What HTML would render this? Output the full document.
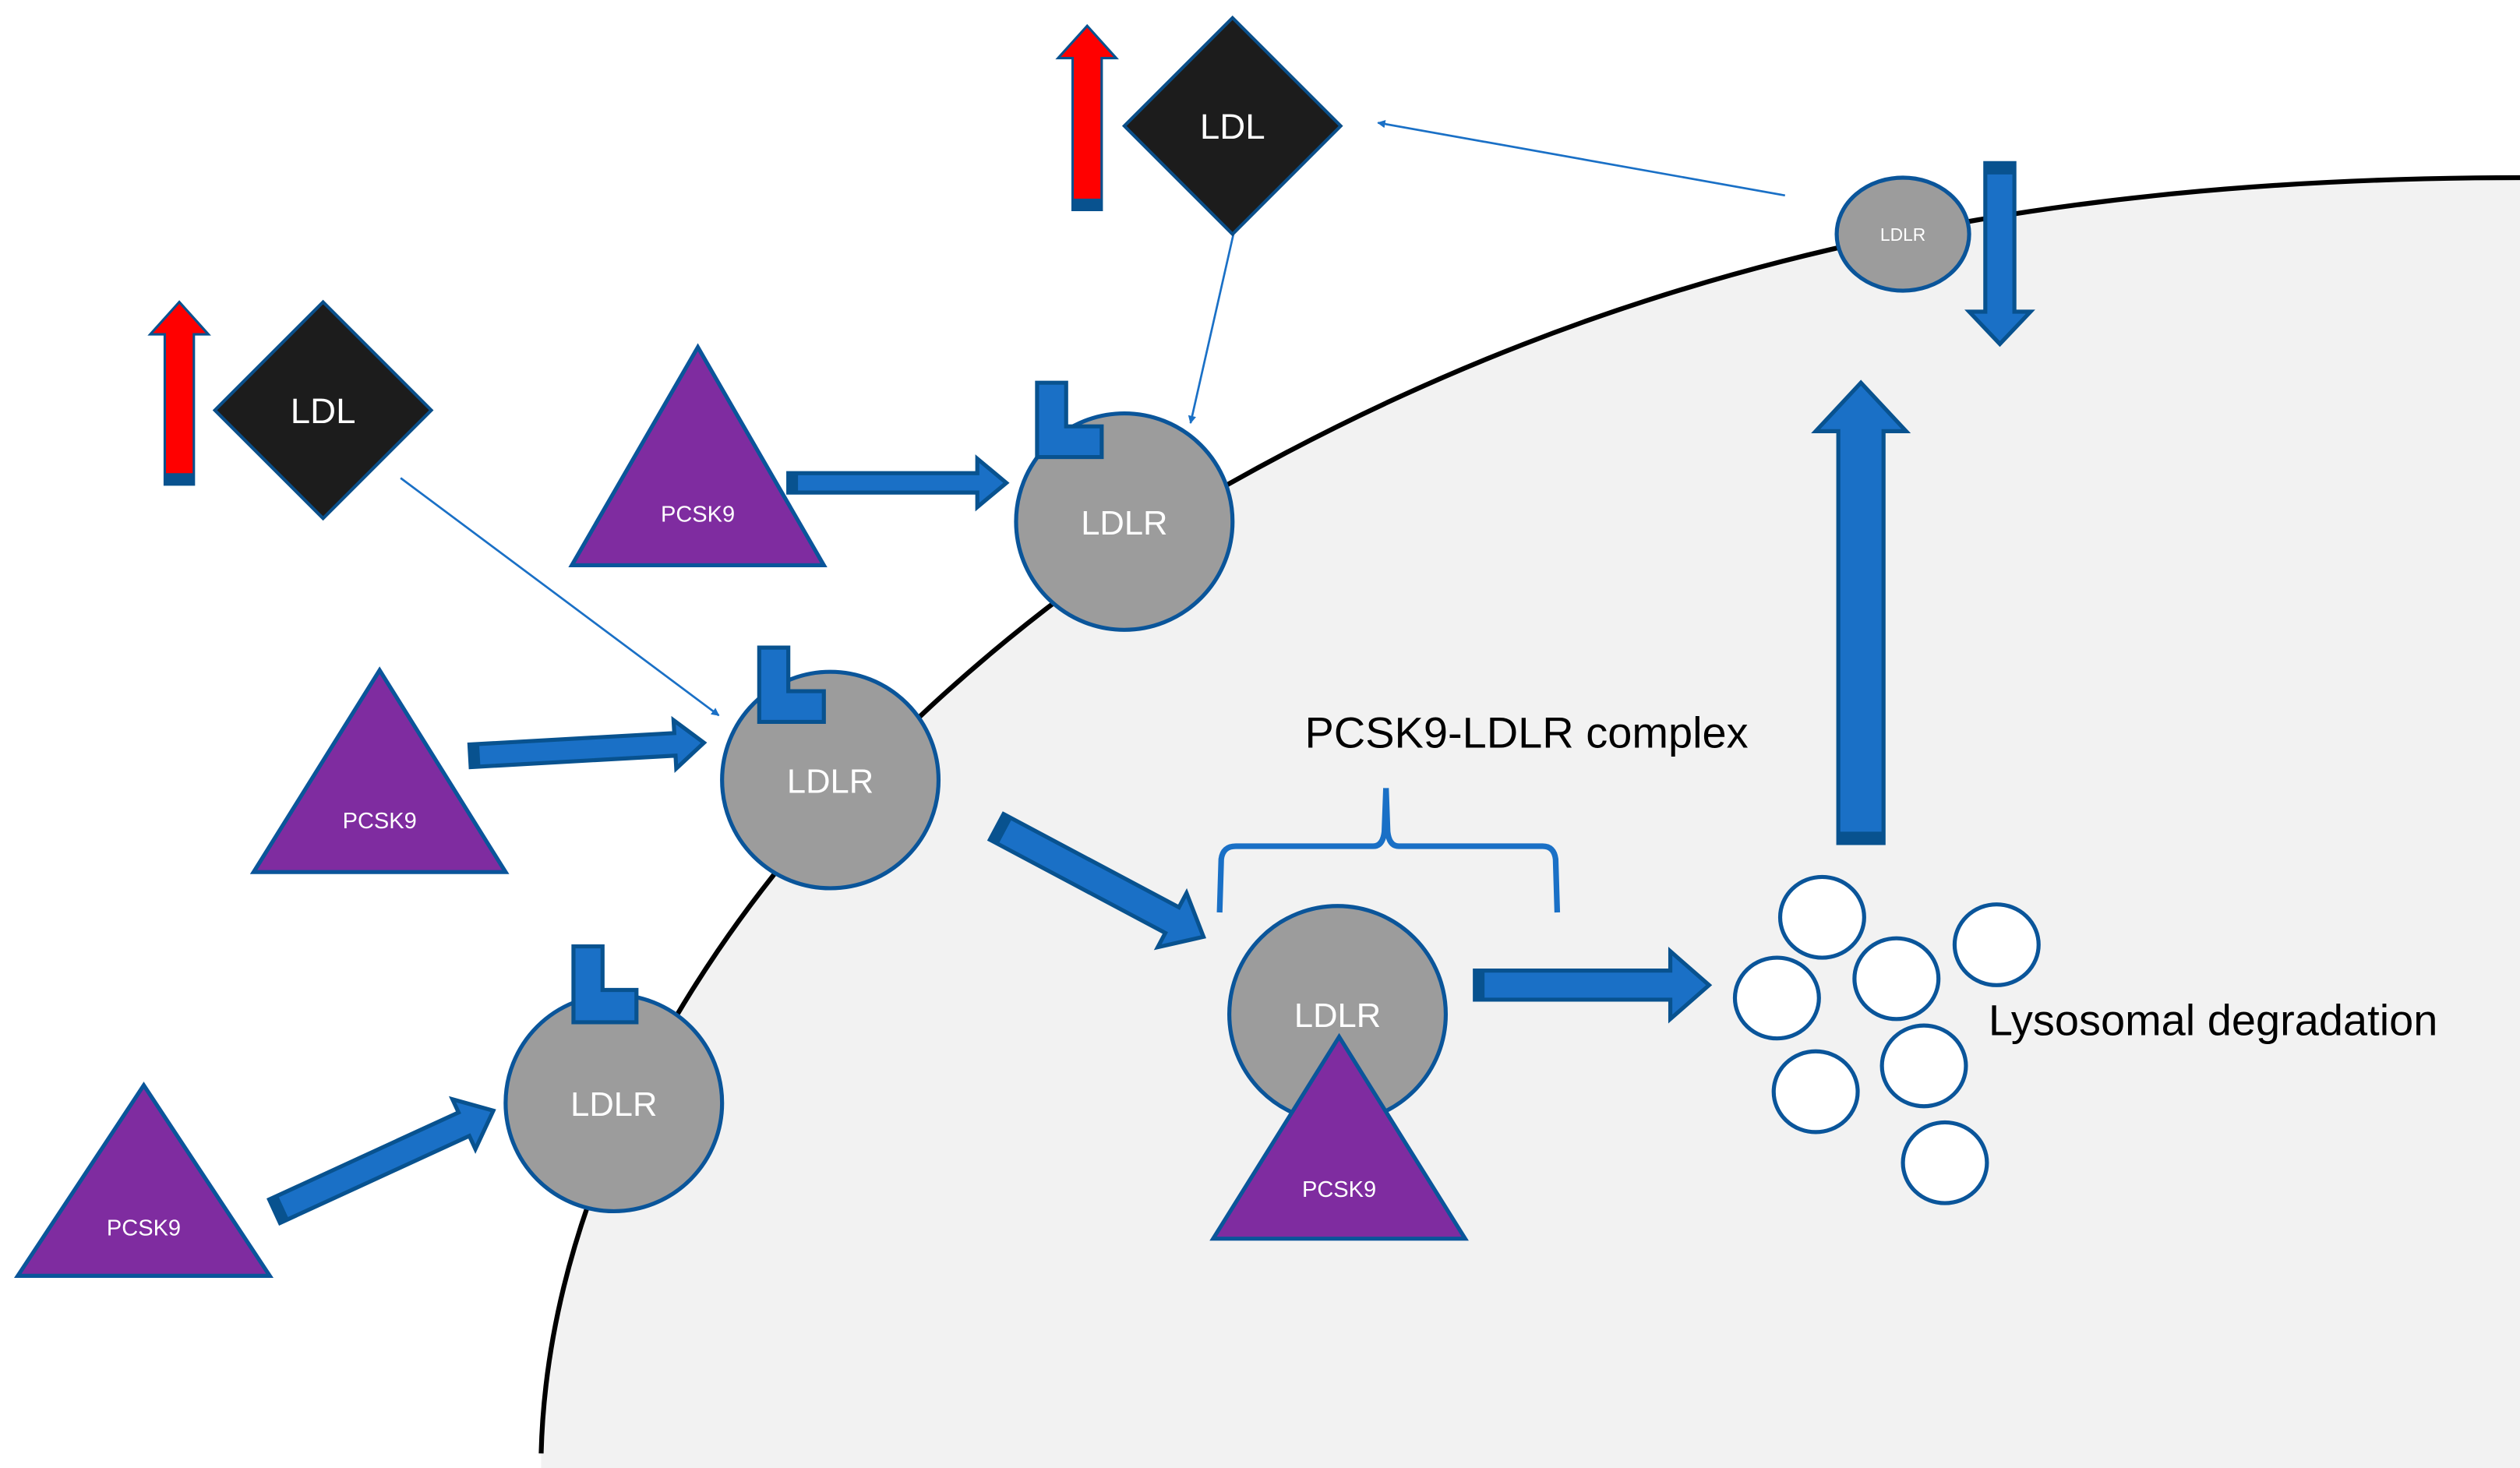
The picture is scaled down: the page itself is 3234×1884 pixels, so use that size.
<!DOCTYPE html>
<html><head><meta charset="utf-8"><style>
html,body{margin:0;padding:0;background:#fff;}
svg{display:block;}
text{font-family:"Liberation Sans",sans-serif;}
</style></head><body>
<svg width="3234" height="1884" viewBox="0 0 1560 909" preserveAspectRatio="none" xmlns="http://www.w3.org/2000/svg">
<defs>
<marker id="ah" viewBox="0 0 10 10" refX="9" refY="5" markerWidth="5" markerHeight="5" orient="auto" markerUnits="userSpaceOnUse">
<path d="M0,0 L10,5 L0,10 z" fill="#1a70c6"/></marker>
</defs>
<rect width="1560" height="909" fill="#fff"/>
<!-- cell -->
<path d="M335,909 L335,900 C340,700 480,470 760,300 C1000,165 1250,110 1560,110 L1560,909 Z" fill="#f2f2f2"/>
<path d="M335,900 C340,700 480,470 760,300 C1000,165 1250,110 1560,110" fill="none" stroke="#000" stroke-width="3"/>

<!-- thin connectors -->
<line x1="248" y1="296" x2="445" y2="443" stroke="#1a70c6" stroke-width="1.3" marker-end="url(#ah)"/>
<line x1="764" y1="143" x2="737" y2="262" stroke="#1a70c6" stroke-width="1.3" marker-end="url(#ah)"/>
<line x1="1105" y1="121" x2="853" y2="76" stroke="#1a70c6" stroke-width="1.3" marker-end="url(#ah)"/>

<g fill="#1a70c6" stroke="#08528f" stroke-width="2.5" stroke-linejoin="miter">
<!-- block arrows -->
<g transform="translate(488,299)"><polygon points="0,-6 117,-6 117,-15 135,0 117,15 117,6 0,6"/><rect x="0" y="-6" width="6" height="12" fill="#08528f" stroke="none"/></g>
<g transform="translate(291,468) rotate(-3.2)"><polygon points="0,-7 127,-7 127,-15 145,0 127,15 127,7 0,7"/><rect x="0" y="-7" width="6" height="14" fill="#08528f" stroke="none"/></g>
<g transform="translate(170,750) rotate(-24.7)"><polygon points="0,-8 129,-8 129,-17 149,0 129,17 129,8 0,8"/><rect x="0" y="-8" width="6" height="16" fill="#08528f" stroke="none"/></g>
<g transform="translate(617,512) rotate(28)"><polygon points="0,-9 123,-9 123,-19 145,0 123,19 123,9 0,9"/><rect x="0" y="-9" width="6" height="18" fill="#08528f" stroke="none"/></g>
<g transform="translate(913,610)"><polygon points="0,-9 121,-9 121,-21 145,0 121,21 121,9 0,9"/><rect x="0" y="-9" width="6" height="18" fill="#08528f" stroke="none"/></g>
<g transform="translate(1152,522) rotate(-90)"><polygon points="0,-14 255,-14 255,-28 285,0 255,28 255,14 0,14"/><rect x="0" y="-14" width="7" height="28" fill="#08528f" stroke="none"/></g>
<g transform="translate(1238,101) rotate(90)"><polygon points="0,-9 92,-9 92,-19 112,0 92,19 92,9 0,9"/><rect x="0" y="-9" width="7" height="18" fill="#08528f" stroke="none"/></g>
</g>

<!-- red arrows -->
<g transform="translate(111,300) rotate(-90)"><polygon points="0,-9 93,-9 93,-18 113,0 93,18 93,9 0,9" fill="#ff0000" stroke="#08528f" stroke-width="1.5"/><rect x="0" y="-9" width="7" height="18" fill="#08528f"/></g>
<g transform="translate(673,130) rotate(-90)"><polygon points="0,-9 94,-9 94,-18 114,0 94,18 94,9 0,9" fill="#ff0000" stroke="#08528f" stroke-width="1.5"/><rect x="0" y="-9" width="7" height="18" fill="#08528f"/></g>

<!-- diamonds -->
<polygon points="200,187 267,254 200,321 133,254" fill="#1c1c1c" stroke="#0a4f8a" stroke-width="2"/>
<text x="200" y="262" font-size="22" fill="#fff" text-anchor="middle">LDL</text>
<polygon points="763,11 830,78 763,145 696,78" fill="#1c1c1c" stroke="#0a4f8a" stroke-width="2"/>
<text x="763" y="86" font-size="22" fill="#fff" text-anchor="middle">LDL</text>

<!-- LDLR circles -->
<g fill="#9c9c9c" stroke="#0a559a" stroke-width="2.5">
<ellipse cx="696" cy="323" rx="67" ry="67"/>
<ellipse cx="514" cy="483" rx="67" ry="67"/>
<ellipse cx="380" cy="683" rx="67" ry="67"/>
<ellipse cx="828" cy="628" rx="67" ry="67"/>
<ellipse cx="1178" cy="145" rx="41" ry="35"/>
</g>
<g fill="#1a70c6" stroke="#08528f" stroke-width="2.5">
<polygon points="642,237 660,237 660,264 682,264 682,283 642,283"/>
<polygon points="470,401 488,401 488,428 510,428 510,447 470,447"/>
<polygon points="355,586 373,586 373,613 394,613 394,633 355,633"/>
</g>
<g fill="#fff" text-anchor="middle">
<text x="696" y="331" font-size="21">LDLR</text>
<text x="514" y="491" font-size="21">LDLR</text>
<text x="380" y="691" font-size="21">LDLR</text>
<text x="828" y="636" font-size="21">LDLR</text>
<text x="1178" y="149" font-size="11">LDLR</text>
</g>

<!-- triangles -->
<g fill="#7f2ca0" stroke="#0a559a" stroke-width="2.5">
<polygon points="432,215 354,350 510,350"/>
<polygon points="235,415 157,540 313,540"/>
<polygon points="89,672 11,790 167,790"/>
<polygon points="829,642 751,767 907,767"/>
</g>
<g fill="#fff" text-anchor="middle" font-size="14">
<text x="432" y="323">PCSK9</text>
<text x="235" y="513">PCSK9</text>
<text x="89" y="765">PCSK9</text>
<text x="829" y="741">PCSK9</text>
</g>

<!-- brace -->
<path d="M755,565 L756,532 Q757,524 765,524 L850,524 Q856,524 857,515 L858,488 M858,488 L859,515 Q860,524 866,524 L955,524 Q962,524 963,532 L964,565" fill="none" stroke="#1a70c6" stroke-width="3.5"/>
<text x="945" y="463" font-size="27" fill="#000" text-anchor="middle">PCSK9-LDLR complex</text>

<!-- lysosomes -->
<g fill="#fff" stroke="#0a559a" stroke-width="2.5">
<ellipse cx="1128" cy="568" rx="26" ry="25"/>
<ellipse cx="1236" cy="585" rx="26" ry="25"/>
<ellipse cx="1174" cy="606" rx="26" ry="25"/>
<ellipse cx="1100" cy="618" rx="26" ry="25"/>
<ellipse cx="1191" cy="660" rx="26" ry="25"/>
<ellipse cx="1124" cy="676" rx="26" ry="25"/>
<ellipse cx="1204" cy="720" rx="26" ry="25"/>
</g>
<text x="1370" y="641" font-size="27" fill="#000" text-anchor="middle">Lysosomal degradation</text>
</svg>
</body></html>
